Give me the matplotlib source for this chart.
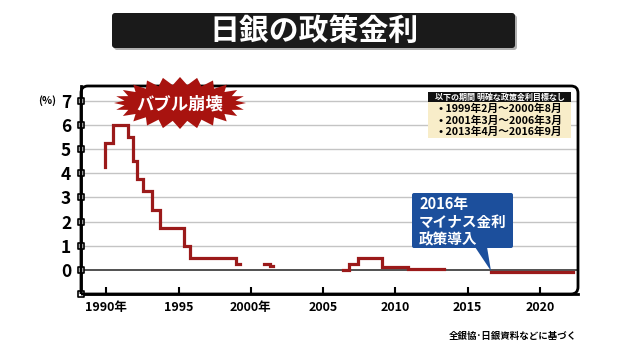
import numpy as np
import matplotlib
matplotlib.use("Agg")
import matplotlib.pyplot as plt
from matplotlib.path import Path
from matplotlib.patches import PathPatch, Polygon, Rectangle, FancyBboxPatch

plt.rcParams['font.family'] = ['Noto Sans CJK JP', 'DejaVu Sans']
plt.rcParams['font.weight'] = 'bold'

# policy rate steps (year, %) - gaps = no explicit target
seg1_years = [1989.93, 1989.93, 1990.48, 1991.48, 1991.86, 1992.10, 1992.56,
              1993.14, 1993.71, 1995.37, 1995.79, 1998.97, 1999.25]
seg1_rates = [4.25, 5.25, 6.0, 5.5, 4.5, 3.75, 3.25, 2.5, 1.75, 1.0, 0.5, 0.25, 0.25]
seg2_years = [2000.92, 2001.33, 2001.53]
seg2_rates = [0.25, 0.15, 0.15]
seg3_years = [2006.37, 2006.79, 2007.41, 2009.07, 2010.9, 2013.36]
seg3_rates = [0.0, 0.25, 0.5, 0.1, 0.05, 0.05]
seg4_years = [2016.6, 2022.27]
seg4_rates = [-0.1, -0.1]

x_ticks = [1990, 1995, 2000, 2005, 2010, 2015, 2020]
x_labels = ['1990年', '1995', '2000年', '2005', '2010', '2015', '2020']
y_ticks = [-1, 0, 1, 2, 3, 4, 5, 6, 7]
y_labels = ['', '0', '1', '2', '3', '4', '5', '6', '7']

title = '日銀の政策金利'
burst_text = 'バブル崩壊'
note_header = '以下の期間 明確な政策金利目標なし'
note_lines = ['• 1999年2月～2000年8月', '• 2001年3月～2006年3月', '• 2013年4月～2016年9月']
callout_lines = ['2016年', 'マイナス金利', '政策導入']
source = '全銀協･日銀資料などに基づく'

W, H = 630, 354
fig = plt.figure(figsize=(W / 100, H / 100), dpi=100)
fig.patch.set_facecolor('white')

# main chart axes
L, R, T, B = 81, 578, 86, 294
ax = fig.add_axes([L / W, 1 - B / H, (R - L) / W, (B - T) / H])
ax.set_xlim(1988.25, 2022.64)
ax.set_ylim(-1, 7.62)

for spine in ['top', 'right']:
    ax.spines[spine].set_visible(False)
ax.spines['left'].set_linewidth(2)
ax.spines['bottom'].set_linewidth(2)

ax.set_yticks(y_ticks)
ax.set_yticklabels(y_labels, fontsize=12.5)
ax.tick_params(axis='y', length=0, pad=7)
ax.set_xticks(x_ticks)
ax.set_xticklabels(x_labels, fontsize=9)
ax.tick_params(axis='x', direction='in', length=5, width=1.5, pad=5)

for v in range(1, 8):
    ax.axhline(v, color='#c4c4c4', lw=1, zorder=1)
ax.axhline(0, color='#333333', lw=1.2, zorder=1)

# square tick markers on y axis
ax.scatter([0] * len(y_ticks), y_ticks, transform=ax.get_yaxis_transform(),
           marker='s', s=22, facecolor='white', edgecolor='black', lw=1.2,
           clip_on=False, zorder=5)

line_color = '#9b1a1a'
for xs, ys in [(seg1_years, seg1_rates), (seg2_years, seg2_rates),
               (seg3_years, seg3_rates), (seg4_years, seg4_rates)]:
    ax.step(xs, ys, where='post', color=line_color, lw=2.3, zorder=3,
            solid_joinstyle='miter')

# overlay in pixel coords for decorations
ov = fig.add_axes([0, 0, 1, 1], zorder=10)
ov.set_xlim(0, W)
ov.set_ylim(H, 0)
ov.axis('off')
ov.patch.set_visible(False)

# frame with rounded top-left / top-right / bottom-right corners
r = 7
verts = [(L, B), (L, T + r), (L, T), (L + r, T), (R - r, T), (R, T), (R, T + r),
         (R, B - r), (R, B), (R - r, B), (L, B)]
codes = [Path.MOVETO, Path.LINETO, Path.CURVE3, Path.CURVE3, Path.LINETO,
         Path.CURVE3, Path.CURVE3, Path.LINETO, Path.CURVE3, Path.CURVE3, Path.LINETO]
ov.add_patch(PathPatch(Path(verts, codes), fill=False, lw=2, ec='black'))

ov.text(56, 101, '(%)', fontsize=7.5, ha='right', va='center')

# title bar
ov.add_patch(FancyBboxPatch((114, 15), 403, 35, boxstyle='round,pad=0,rounding_size=3',
                            fc='#b0b0b0', ec='none'))
ov.add_patch(FancyBboxPatch((112, 13), 403, 35, boxstyle='round,pad=0,rounding_size=3',
                            fc='#1a1a1a', ec='none'))
ov.text(314, 31, title, color='white', fontsize=21.5, ha='center', va='center')

# starburst
n = 24
ang = np.linspace(0, 2 * np.pi, 2 * n, endpoint=False)
rx = np.where(np.arange(2 * n) % 2 == 0, 66, 56)
ry = np.where(np.arange(2 * n) % 2 == 0, 26, 18)
bx = 180 + rx * np.cos(ang)
by = 103 + ry * np.sin(ang)
ov.add_patch(Polygon(np.column_stack([bx, by]), closed=True, fc='#a8130f', ec='none'))
ov.text(180, 104, burst_text, color='white', fontsize=12.5, ha='center', va='center')

# note box
ov.add_patch(Rectangle((428, 92), 143, 10, fc='#111111', ec='none'))
ov.add_patch(Rectangle((428, 102), 143, 36, fc='#f8edc9', ec='none'))
ov.text(499.5, 97.5, note_header, color='white', fontsize=5.8, ha='center', va='center')
for i, s in enumerate(note_lines):
    ov.text(439, 109 + i * 11.5, s, fontsize=7.7, ha='left', va='center')

# callout
blue = '#1c4f9c'
ov.add_patch(FancyBboxPatch((412, 193), 101, 55, boxstyle='round,pad=0,rounding_size=2',
                            fc=blue, ec='none'))
ov.add_patch(Polygon([(475, 247), (487, 247), (491, 271)], closed=True, fc=blue, ec='none'))
for i, s in enumerate(callout_lines):
    ov.text(419, 204 + i * 17.5, s, color='white', fontsize=10.5, ha='left', va='center')

ov.text(577, 336, source, fontsize=6.8, ha='right', va='center')

fig.savefig('out.png', dpi=100)
